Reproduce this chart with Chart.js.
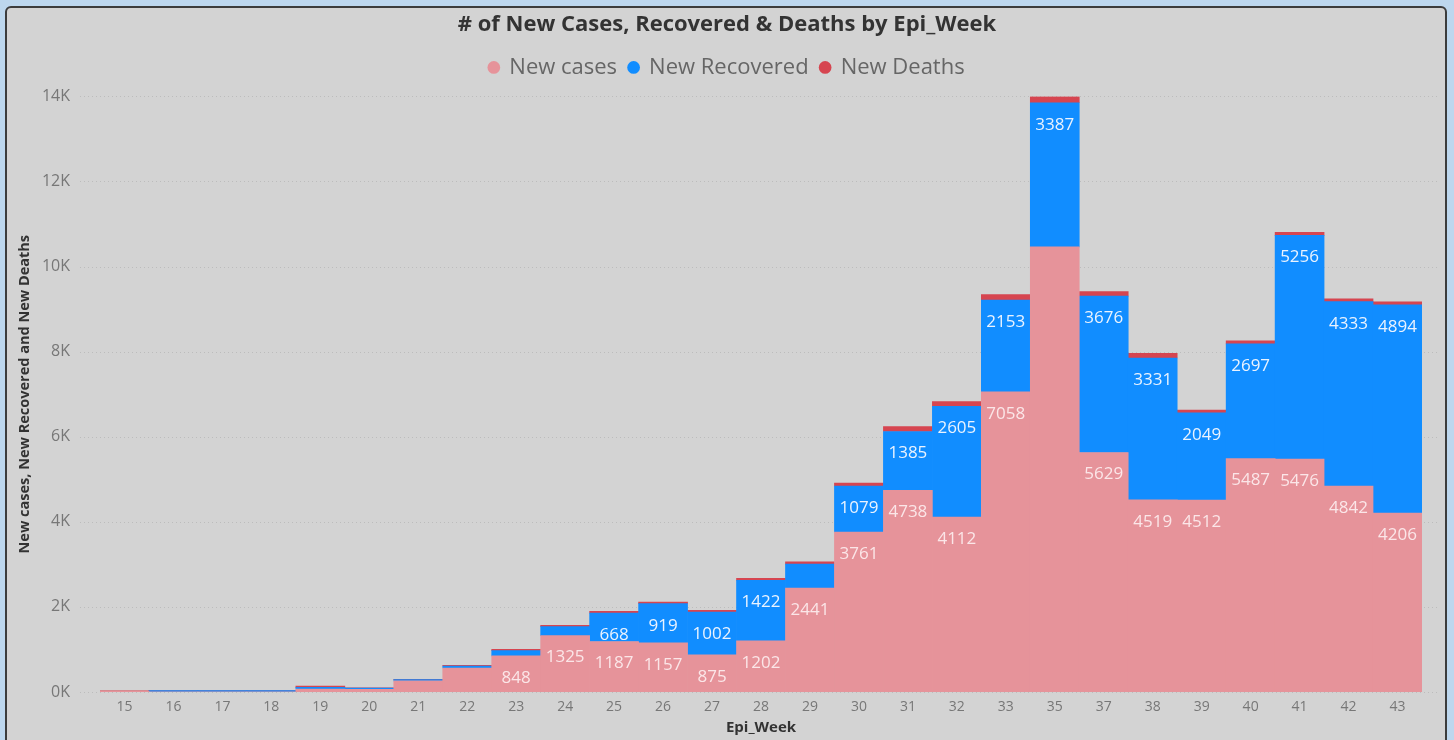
<!DOCTYPE html>
<html>
<head>
<meta charset="utf-8">
<script src="https://cdn.jsdelivr.net/npm/chart.js@4.4.0/dist/chart.umd.min.js"></script>
<style>
  html, body { margin: 0; padding: 0; }
  body { width: 1454px; height: 740px; background: #bdd7ee; overflow: hidden; position: relative; }
  #panel { position: absolute; left: 5px; top: 6px; width: 1438px; height: 780px; background: #d3d3d3; border: 2px solid #3c3c3c; border-radius: 6px; }
  #wrap { position: absolute; left: 0; top: 0; width: 1454px; height: 740px; }
</style>
</head>
<body>
<div id="panel"></div>
<div id="wrap"><canvas id="epiChart" width="1454" height="740"></canvas></div>
<script>
// Epi weeks (34 and 36 are missing in the source)
const weeks = ['15', '16', '17', '18', '19', '20', '21', '22', '23', '24', '25', '26', '27', '28',
               '29', '30', '31', '32', '33', '35', '37', '38', '39', '40', '41', '42', '43'];

const newCases = [15, 3, 3, 3, 70, 60, 260, 565, 848, 1325, 1187, 1157, 875, 1202,
                  2441, 3761, 4738, 4112, 7058, 10464, 5629, 4519, 4512, 5487, 5476, 4842, 4206];

const newRecovered = [0, 30, 30, 30, 40, 35, 30, 47, 125, 210, 668, 919, 1002, 1422,
                      566, 1079, 1385, 2605, 2153, 3387, 3676, 3331, 2049, 2697, 5256, 4333, 4894];

const newDeaths = [15, 2, 2, 2, 30, 3, 5, 16, 30, 30, 40, 40, 40, 47,
                   55, 70, 115, 110, 130, 145, 110, 110, 65, 70, 70, 65, 70];

const yTicks = [0, 2000, 4000, 6000, 8000, 10000, 12000, 14000];

// data labels: only segments big enough get one, week 35 cases label is hidden in the source
const labelMin = 600;
const hiddenCaseLabels = ['35'];

// dotted horizontal gridlines that run a bit past the plot like in Power BI
const dottedGrid = {
    id: 'dottedGrid',
    beforeDatasetsDraw(chart) {
        const { ctx, chartArea } = chart;
        const y = chart.scales.y;
        ctx.save();
        ctx.strokeStyle = '#bcbcbc';
        ctx.lineWidth = 1;
        ctx.setLineDash([1, 3]);
        yTicks.forEach(v => {
            const py = Math.round(y.getPixelForValue(v)) + 0.5;
            ctx.beginPath();
            ctx.moveTo(chartArea.left - 20, py);
            ctx.lineTo(chartArea.right + 16, py);
            ctx.stroke();
        });
        ctx.restore();
    }
};

// value labels inside the cases / recovered segments
const segmentLabels = {
    id: 'segmentLabels',
    afterDatasetsDraw(chart) {
        const { ctx } = chart;
        ctx.save();
        ctx.font = '17px "Open Sans"';
        ctx.textAlign = 'center';
        ctx.textBaseline = 'middle';
        [0, 1].forEach(di => {
            const meta = chart.getDatasetMeta(di);
            const values = chart.data.datasets[di].data;
            ctx.fillStyle = di === 0 ? '#fbe6e8' : '#eaf3ff';
            meta.data.forEach((bar, i) => {
                const v = values[i];
                if (v < labelMin) return;
                if (di === 0 && hiddenCaseLabels.includes(weeks[i])) return;
                ctx.fillText(String(v), bar.x, bar.y + 22);
            });
        });
        ctx.restore();
    }
};

const hiddenAxis = {
    display: true,
    grid: { display: false, drawTicks: false },
    border: { display: false },
    ticks: { display: false }
};

const epiCtx = document.getElementById('epiChart').getContext('2d');
const epiChart = new Chart(epiCtx, {
    type: 'bar',
    data: {
        labels: weeks,
        datasets: [
            { label: 'New cases', data: newCases, backgroundColor: '#e6939a', xAxisID: 'x', yAxisID: 'y' },
            { label: 'New Recovered', data: newRecovered, backgroundColor: '#118dff', xAxisID: 'x', yAxisID: 'y' },
            { label: 'New Deaths', data: newDeaths, backgroundColor: '#d64550', xAxisID: 'x', yAxisID: 'y' }
        ]
    },
    options: {
        responsive: false,
        animation: false,
        layout: { padding: 0 },
        datasets: { bar: { barPercentage: 1, categoryPercentage: 1, borderWidth: 0 } },
        plugins: {
            title: {
                display: true,
                text: '# of New Cases, Recovered & Deaths by Epi_Week',
                color: '#333333',
                font: { family: 'Open Sans', size: 22, weight: 'bold' },
                padding: { top: 12, bottom: 6 }
            },
            legend: {
                position: 'top',
                labels: {
                    usePointStyle: true,
                    pointStyle: 'circle',
                    boxHeight: 9,
                    boxWidth: 9,
                    padding: 12,
                    color: '#666666',
                    font: { family: 'Open Sans', size: 22 }
                }
            },
            tooltip: { enabled: false }
        },
        scales: {
            x: {
                stacked: true,
                grid: { display: false, drawTicks: false },
                border: { display: false },
                ticks: { color: '#777777', padding: 7, font: { family: 'Open Sans', size: 14 } },
                title: {
                    display: true,
                    text: 'Epi_Week',
                    color: '#333333',
                    font: { family: 'Open Sans', size: 15, weight: 'bold' },
                    padding: { top: 0, bottom: 3 }
                },
                afterFit(scale) { scale.height = 48; }
            },
            y: {
                stacked: true,
                min: 0,
                max: 14000,
                grid: { display: false, drawTicks: false },
                border: { display: false },
                ticks: {
                    stepSize: 2000,
                    color: '#777777',
                    padding: 30,
                    font: { family: 'Open Sans', size: 16 },
                    callback: v => (v / 1000) + 'K'
                },
                title: {
                    display: true,
                    text: 'New cases, New Recovered and New Deaths',
                    color: '#333333',
                    font: { family: 'Open Sans', size: 14.5, weight: 'bold' },
                    padding: { top: 16, bottom: 0 }
                },
                afterFit(scale) { scale.width = 100; }
            },
            // empty boxes only used to leave room above and right of the plot
            xTop: { ...hiddenAxis, type: 'category', position: 'top', afterFit(scale) { scale.height = 8; } },
            yRight: { ...hiddenAxis, type: 'linear', position: 'right', afterFit(scale) { scale.width = 32; } }
        }
    },
    plugins: [dottedGrid, segmentLabels]
});
</script>
</body>
</html>
